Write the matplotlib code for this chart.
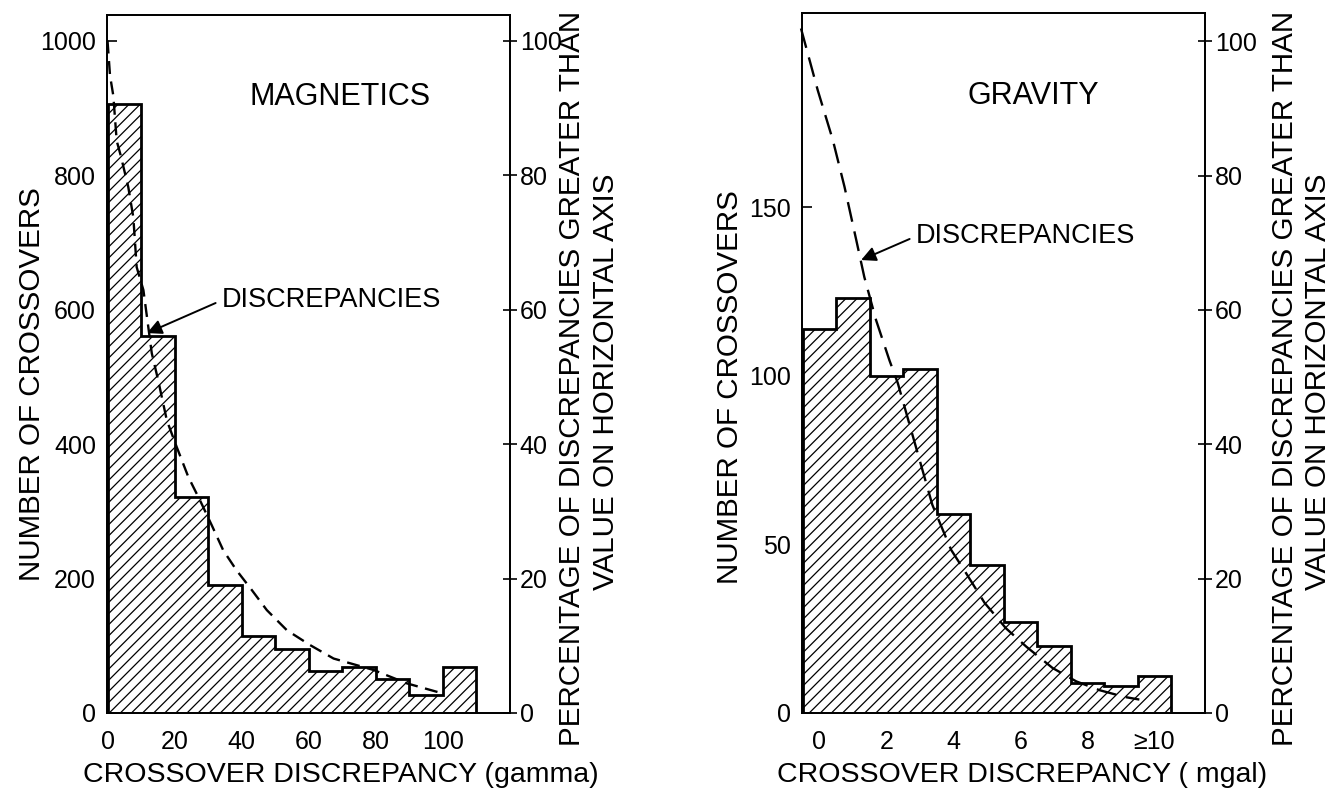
import matplotlib
matplotlib.use("Agg")
import matplotlib.pyplot as plt
import numpy as np

plt.rcParams['font.family'] = ['Liberation Sans', 'DejaVu Sans']
plt.rcParams['hatch.linewidth'] = 0.9

# ---------------- data ----------------
# Magnetics histogram (gamma)
mag_edges = [0, 10, 20, 30, 40, 50, 60, 70, 80, 90, 100, 110]
mag_counts = [905, 560, 321, 190, 115, 95, 62, 68, 50, 27, 68]
# Magnetics cumulative curve (% greater than value)
mag_curve_x = [0, 0.75, 1.73, 2.74, 3.94, 6.2, 7.7, 8.7, 10.7, 13.2, 15.1, 17.7,
               20.6, 24.1, 27.6, 31.1, 34.5, 38.5, 43, 47.5, 53.5, 60.4, 67.4,
               79.3, 89.3, 100]
mag_curve_y = [100, 94.8, 91.8, 85.1, 82.9, 78.2, 73.7, 66.3, 62.9, 53.5, 49.5, 43.5,
               39.6, 35.1, 31.6, 27.9, 24.2, 21.2, 18.3, 15.3, 12.3, 10.1, 8.1,
               6.4, 4.4, 2.9]
mag_xticks = [0, 20, 40, 60, 80, 100]
mag_yticks = [0, 200, 400, 600, 800, 1000]

# Gravity histogram (mgal), bins centred on 0..10 (last = >=10)
grav_edges = [-0.5, 0.5, 1.5, 2.5, 3.5, 4.5, 5.5, 6.5, 7.5, 8.5, 9.5, 10.5]
grav_counts = [114, 123, 100, 102, 59, 44, 27, 20, 9, 8, 11]
grav_curve_x = [-0.55, -0.05, 0.40, 0.75, 1.10, 1.34, 1.69, 2.09, 2.34, 3.37,
                3.93, 4.38, 4.93, 5.57, 6.17, 6.96, 7.67, 8.36, 9.1, 9.55]
grav_curve_y = [101.9, 92.7, 85.3, 78.3, 70.4, 64.9, 58.5, 52.5, 49.1, 31.0,
                24.3, 20.8, 16.4, 12.6, 9.9, 6.7, 4.7, 3.4, 2.4, 2.0]
grav_xticks = [0, 2, 4, 6, 8, 10]
grav_xticklabels = ['0', '2', '4', '6', '8', '\u226510']
grav_minor = [0.5, 1.5, 2.5, 3.5, 4.5, 5.5, 6.5, 7.5, 8.5, 9.5]
grav_yticks = [0, 50, 100, 150]
pct_ticks = [0, 20, 40, 60, 80, 100]

W, H = 1340, 794
fig = plt.figure(figsize=(W / 100, H / 100), dpi=100)

def fx(px):
    return px / W

def fy(py):
    return 1 - py / H

TICK_FS = 18
LAB_FS = 21.3
SP_LW = 1.3

def style_axes(ax, axr):
    for s in ax.spines.values():
        s.set_linewidth(SP_LW)
    for s in axr.spines.values():
        s.set_linewidth(SP_LW)
    ax.tick_params(axis='y', direction='in', length=7, width=1.2,
                   labelsize=TICK_FS, pad=8)
    ax.tick_params(axis='x', direction='in', length=5, width=1.2,
                   labelsize=TICK_FS, pad=12, top=False)
    axr.tick_params(axis='y', direction='inout', length=10, width=1.2,
                    labelsize=TICK_FS, pad=2)

# ---------------- MAGNETICS ----------------
ax1 = fig.add_axes([fx(107), fy(713), fx(403), 698 / H])
ax1.stairs(mag_counts, mag_edges, baseline=0, fill=True, facecolor='white',
           edgecolor='black', hatch='///', linewidth=2.0, zorder=2)
ax1.set_xlim(-0.15, 120)
ax1.set_ylim(0, 1038)
ax1.set_xticks(mag_xticks)
ax1.set_yticks(mag_yticks)
ax1r = ax1.twinx()
ax1r.set_ylim(0, 103.8)
ax1r.set_yticks(pct_ticks)
ax1r.plot(mag_curve_x, mag_curve_y, color='black', lw=1.7,
          linestyle=(0, (5.5, 3.2)), zorder=3)
style_axes(ax1, ax1r)

ax1.text(69.4, 916, 'MAGNETICS', fontsize=22, ha='center', va='center')
ax1.annotate('DISCREPANCIES', xy=(11.8, 565), xytext=(34.2, 614),
             fontsize=19.5, ha='left', va='center',
             arrowprops=dict(arrowstyle='-|>', color='black', lw=1.4,
                             mutation_scale=22, relpos=(0, 0.5),
                             shrinkA=3, shrinkB=0))

fig.text(fx(32), fy(384), 'NUMBER OF CROSSOVERS', rotation=90,
         fontsize=LAB_FS, ha='center', va='center')
fig.text(fx(572), fy(378), 'PERCENTAGE OF DISCREPANCIES GREATER THAN',
         rotation=90, fontsize=LAB_FS, ha='center', va='center')
fig.text(fx(606), fy(382), 'VALUE ON HORIZONTAL AXIS', rotation=90,
         fontsize=LAB_FS, ha='center', va='center')
fig.text(fx(341), fy(775), 'CROSSOVER DISCREPANCY (gamma)',
         fontsize=20.5, ha='center', va='center')

# ---------------- GRAVITY ----------------
ax2 = fig.add_axes([fx(802), fy(713), fx(403), 700 / H])
ax2.stairs(grav_counts, grav_edges, baseline=0, fill=True, facecolor='white',
           edgecolor='black', hatch='///', linewidth=2.0, zorder=2)
ax2.set_xlim(-0.52, 11.51)
ax2.set_ylim(0, 207.7)
ax2.set_xticks(grav_xticks)
ax2.set_xticklabels(grav_xticklabels)
ax2.set_xticks(grav_minor, minor=True)
ax2.set_yticks(grav_yticks)
ax2r = ax2.twinx()
ax2r.set_ylim(0, 104.2)
ax2r.set_yticks(pct_ticks)
ax2r.plot(grav_curve_x, grav_curve_y, color='black', lw=1.7,
          linestyle=(0, (8.5, 4.2)), zorder=3, clip_on=False)
style_axes(ax2, ax2r)
ax2.tick_params(axis='x', which='major', length=0)
ax2.tick_params(axis='x', which='minor', direction='in', length=5, width=1.2,
                top=False)

ax2.text(6.39, 183, 'GRAVITY', fontsize=22, ha='center', va='center')
ax2.annotate('DISCREPANCIES', xy=(1.245, 134.4), xytext=(2.89, 141.5),
             fontsize=19.5, ha='left', va='center',
             arrowprops=dict(arrowstyle='-|>', color='black', lw=1.4,
                             mutation_scale=22, relpos=(0, 0.5),
                             shrinkA=3, shrinkB=0))

fig.text(fx(730), fy(387), 'NUMBER OF CROSSOVERS', rotation=90,
         fontsize=LAB_FS, ha='center', va='center')
fig.text(fx(1285), fy(378), 'PERCENTAGE OF DISCREPANCIES GREATER THAN',
         rotation=90, fontsize=LAB_FS, ha='center', va='center')
fig.text(fx(1318), fy(382), 'VALUE ON HORIZONTAL AXIS', rotation=90,
         fontsize=LAB_FS, ha='center', va='center')
fig.text(fx(1022), fy(775), 'CROSSOVER DISCREPANCY ( mgal)',
         fontsize=20.5, ha='center', va='center')

fig.savefig('out.png', dpi=100)
